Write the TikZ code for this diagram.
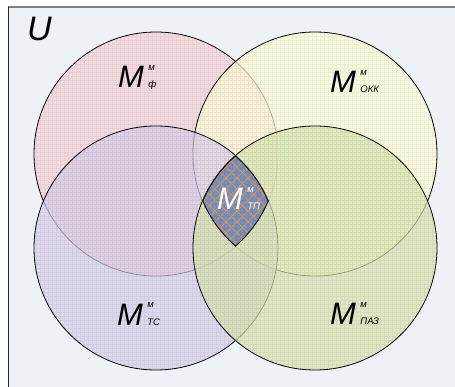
\documentclass[tikz,border=0pt]{standalone}
\usepackage{fontspec}
\setmainfont{Liberation Sans}
\usepackage{tikz}

\definecolor{bgU}{RGB}{238,241,246}
\definecolor{fillF}{RGB}{245,209,213}
\definecolor{fillOKK}{RGB}{254,253,214}
\definecolor{fillTC}{RGB}{216,206,232}
\definecolor{fillPAZ}{RGB}{216,228,176}
\definecolor{coreBlue}{RGB}{112,144,198}
\definecolor{coreHatch}{RGB}{232,146,62}

\begin{document}
\begin{tikzpicture}[x=1pt,y=-1pt,
                    set line/.style={draw=black,line width=0.8pt},
                    bigM/.style={inner sep=0pt,anchor=base west,font=\fontsize{31}{31}\selectfont\itshape},
                    idx/.style={inner sep=0pt,anchor=base west,font=\fontsize{9.5}{9.5}\selectfont\itshape},
                    hatch/.style={draw=coreHatch,line width=0.9pt}]
	\useasboundingbox (0,0) rectangle (455,387);
	\fill[bgU] (8,7) rectangle (455,387);
	\draw[black!50,line width=2pt] (8,7) -- (455,7);
	\draw[black!85,line width=1pt] (8,7) -- (8,387);

	\foreach \cx/\cy/\col in {156/154/fillF,315/154/fillOKK,156/248/fillTC,315/248/fillPAZ} {
		\fill[\col,opacity=0.7] (\cx,\cy) circle (122);
		\begin{scope}
			\clip (\cx,\cy) circle (122);
			\draw[\col!60!black,opacity=0.12,line width=0.4pt,step=4pt] (0,0) grid (455,387);
		\end{scope}
		\draw[set line] (\cx,\cy) circle (122);
	}

	\begin{scope}
		\clip (156,154) circle (122);
		\clip (315,154) circle (122);
		\clip (156,248) circle (122);
		\clip (315,248) circle (122);
		\fill[coreBlue] (190,140) rectangle (290,260);
		\draw[coreBlue!80!black,opacity=0.25,line width=0.4pt,step=4pt] (0,0) grid (455,387);
		\foreach \d in {100,111,...,390} {
			\draw[hatch] (\d,150) -- ++(-100,100);
			\draw[hatch] (\d-100,150) -- ++(100,100);
		}
		\foreach \cx/\cy in {156/154,315/154,156/248,315/248}
			\draw[black,line width=1.6pt] (\cx,\cy) circle (122);
	\end{scope}

	\node[inner sep=0pt,anchor=base west,font=\fontsize{34}{34}\selectfont\itshape] (univ) at (27,41) {U};

	\node[bigM] (mF) at (118,88) {M};
	\node[idx] (mFup) at ([xshift=4pt,yshift=17pt]mF.base east) {м};
	\node[idx] (mFlow) at ([xshift=4pt]mF.base east) {ф};

	\node[bigM] (mOKK) at (330,93) {M};
	\node[idx] (mOKKup) at ([xshift=4pt,yshift=17pt]mOKK.base east) {м};
	\node[idx] (mOKKlow) at ([xshift=4pt]mOKK.base east) {ОКК};

	\node[bigM] (mTC) at (117,325) {M};
	\node[idx] (mTCup) at ([xshift=4pt,yshift=17pt]mTC.base east) {м};
	\node[idx] (mTClow) at ([xshift=4pt]mTC.base east) {ТС};

	\node[bigM] (mPAZ) at (330,324) {M};
	\node[idx] (mPAZup) at ([xshift=4pt,yshift=17pt]mPAZ.base east) {м};
	\node[idx] (mPAZlow) at ([xshift=4pt]mPAZ.base east) {ПАЗ};

	\node[bigM,text=white] (mTP) at (217,210) {M};
	\node[idx,text=white] (mTPup) at ([xshift=4pt,yshift=17pt]mTP.base east) {м};
	\node[idx,text=white] (mTPlow) at ([xshift=4pt]mTP.base east) {ТП};
\end{tikzpicture}
\end{document}
